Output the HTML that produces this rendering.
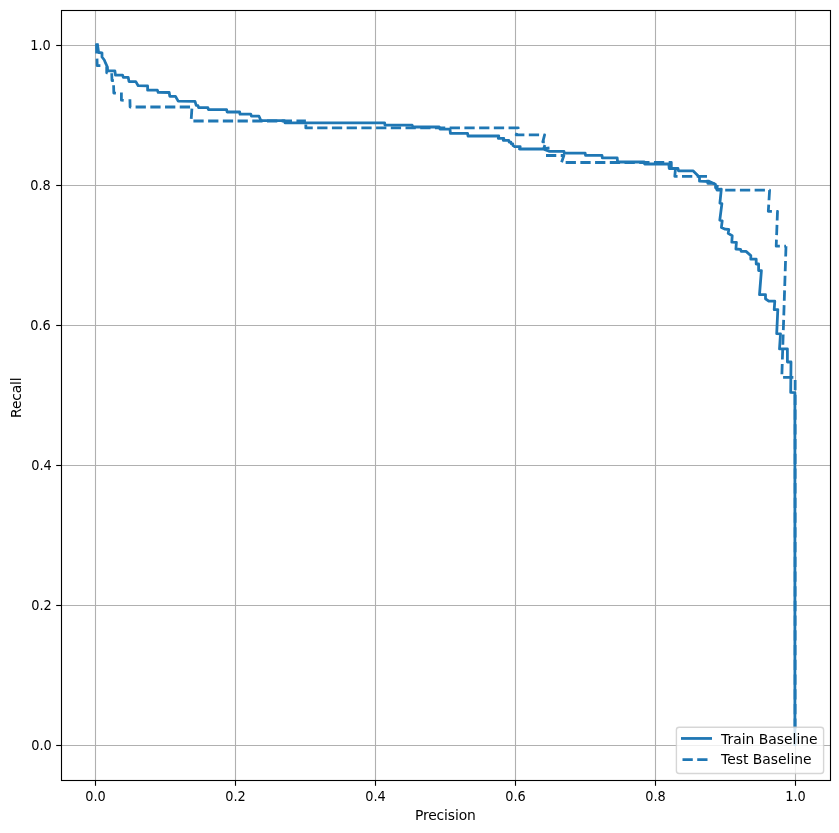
<!DOCTYPE html>
<html lang="en"><head><meta charset="utf-8"><title>Precision / Recall</title>
<style>html,body{margin:0;padding:0;background:#fff}svg{display:block;will-change:transform}text{font-family:"DejaVu Sans", "Liberation Sans", sans-serif;font-size:13.89px;fill:#000;filter:grayscale(1)}</style></head><body>
<svg width="839" height="833" viewBox="0 0 839 833" role="img" aria-label="Precision-Recall curves">
<rect width="839" height="833" fill="#fff"/>
<g stroke="#b0b0b0" stroke-width="1.11" fill="none">
<path d="M95.5,10.5 V780.5"/>
<path d="M61.5,745.5 H830.5"/>
<path d="M235.5,10.5 V780.5"/>
<path d="M61.5,605.5 H830.5"/>
<path d="M375.5,10.5 V780.5"/>
<path d="M61.5,465.5 H830.5"/>
<path d="M515.5,10.5 V780.5"/>
<path d="M61.5,325.5 H830.5"/>
<path d="M655.5,10.5 V780.5"/>
<path d="M61.5,185.5 H830.5"/>
<path d="M795.5,10.5 V780.5"/>
<path d="M61.5,45.5 H830.5"/>
</g>
<clipPath id="ax"><rect x="61.5" y="10.5" width="769.0" height="770.0"/></clipPath>
<g clip-path="url(#ax)" fill="none" stroke="#1f77b4" stroke-width="2.78" stroke-linejoin="round">
<path stroke-linecap="square" d="M97.5,44.8 L98.6,52.5 L102,52.8 L102,57 L104.3,60 L105.6,63.2 L107.4,67 L107.6,70.8 L114.9,70.8 L115.4,75 L122.6,75.1 L123.3,77.35 L128.2,77.35 L129,81.5 L135.8,81.6 L138.2,85.7 L147.6,85.9 L147.6,90.15 L157.4,90.2 L158.2,92.4 L169.2,92.5 L169.8,96.3 L175.5,96.4 L178.2,101.1 L195,101.4 L196.2,105.4 L198,105.6 L198.6,107.6 L207.9,107.6 L208.3,109.6 L226.6,109.6 L227.1,112 L239.7,112 L240,114.2 L250.8,114.2 L251.4,116.2 L259,116.2 L261,120.7 L284.4,120.7 L285,122.8 L384.6,122.8 L385,125.2 L412.2,125.2 L413,127 L439.2,127 L440,129.1 L450,129.2 L450.4,133.4 L467.6,133.4 L468,136 L498.8,136 L498.3,138.3 L503.8,138.3 L503.3,140.4 L508.8,140.4 L509.2,142.1 L510.9,142.2 L511.2,143.8 L512.8,144 L513.1,145.7 L514.6,146.7 L520.2,146.7 L519.5,149 L543,149 L549,151.3 L564,151.3 L564.2,153.2 L585.2,153.2 L585.5,155.4 L602,155.4 L602.3,157.8 L617.2,157.8 L617.6,162 L644.2,162 L644.6,164 L668.8,164 L669.2,168.5 L678,168.5 L678.4,170.8 L693,170.8 L699.5,177.2 L699.5,181.2 L709.4,181.5 L715.4,184.2 L715.6,187.8 L717.4,189.4 L721.3,189.1 L719.9,203.2 L721.9,203.6 L719.8,220.2 L722.2,220.8 L721.4,227.4 L725.2,229.2 L728.8,229.5 L728.2,233.4 L732.2,235.8 L731.8,242.2 L736.4,242.4 L735.9,249 L740.6,249.4 L741.2,251.4 L746,251.4 L750.8,255.6 L750.8,259.2 L756.2,259.2 L756.2,264 L758.6,264 L758.6,270.6 L761.4,270.6 L759.5,294.6 L765.5,294.6 L765.5,298.8 L768.8,301.2 L774.8,301.2 L774.2,309.6 L777.8,309.6 L776.7,333.6 L780.5,333.8 L779.5,348.8 L787.4,348.8 L787.4,362 L791,362 L790.7,392.4 L794.9,392.6 L794.9,744.6"/>
<path d="M96.5,43.4 L96.6,53.4"/>
<path d="M97,58.6 L97.2,65.6 L100.4,65.6"/>
<path d="M106.7,66.5 L106.7,72.8 L107.6,72.8"/>
<path d="M111.7,73.2 L112,80.5 L113.9,80.7"/>
<path d="M113.6,85.2 L113.8,93 L115.9,93.2"/>
<path d="M121.4,92.4 L121.4,100.2 L123.7,100.4"/>
<path d="M544.9,145 L543.7,148.6 L549.5,148"/>
<path stroke-dasharray="10.28 4.44" stroke-dashoffset="1.42" d="M129.9,99.2 L130.1,107 L191.9,107"/>
<path stroke-dasharray="10.28 4.44" stroke-dashoffset="13.11" d="M192,107 L191.1,121 L305.9,121"/>
<path stroke-dasharray="10.28 4.44" stroke-dashoffset="11.14" d="M305.9,121 L305.8,127.9 L518.2,127.9 L516.2,134.8 L544.6,134.8 L542.8,141.8 L544.8,141.8"/>
<path stroke-dasharray="10.28 4.44" stroke-dashoffset="0" d="M546,155.5 L563.9,155.5 L561.5,162.5 L671.3,162.5 L671.3,169.3"/>
<path stroke-dasharray="10.28 4.44" stroke-dashoffset="0.49" d="M675.4,169.3 L674.8,176.3 L708,176.3 L707.8,183.3 L717.4,183.3 L717,190.2 L721,190.2"/>
<path stroke-dasharray="10.28 4.44" stroke-dashoffset="10.52" d="M721,190.2 L769.6,190.2 L768.3,211.3 L777.5,211.3 L776.2,246.2 L786,246.2"/>
<path stroke-dasharray="10.28 4.44" stroke-dashoffset="14.64" d="M786,246.2 L781.8,377.4 L795.15,377.4 L795.1,745.8"/>
</g>
<g stroke="#000" stroke-width="1.11" fill="none">
<rect x="61.5" y="10.5" width="769.0" height="770.0"/>
<path d="M95.5,780.5 v5.3"/>
<path d="M61.5,745.5 h-5.3"/>
<path d="M235.5,780.5 v5.3"/>
<path d="M61.5,605.5 h-5.3"/>
<path d="M375.5,780.5 v5.3"/>
<path d="M61.5,465.5 h-5.3"/>
<path d="M515.5,780.5 v5.3"/>
<path d="M61.5,325.5 h-5.3"/>
<path d="M655.5,780.5 v5.3"/>
<path d="M61.5,185.5 h-5.3"/>
<path d="M795.5,780.5 v5.3"/>
<path d="M61.5,45.5 h-5.3"/>
</g>
<text transform="translate(95.45,800.8) scale(0.93,1)" text-anchor="middle">0.0</text>
<text transform="translate(51.75,749.9) scale(0.93,1)" text-anchor="end">0.0</text>
<text transform="translate(235.45,800.8) scale(0.93,1)" text-anchor="middle">0.2</text>
<text transform="translate(51.75,609.9) scale(0.93,1)" text-anchor="end">0.2</text>
<text transform="translate(375.45,800.8) scale(0.93,1)" text-anchor="middle">0.4</text>
<text transform="translate(51.75,469.9) scale(0.93,1)" text-anchor="end">0.4</text>
<text transform="translate(515.45,800.8) scale(0.93,1)" text-anchor="middle">0.6</text>
<text transform="translate(50.75,329.9) scale(0.93,1)" text-anchor="end">0.6</text>
<text transform="translate(655.45,800.8) scale(0.93,1)" text-anchor="middle">0.8</text>
<text transform="translate(50.75,189.9) scale(0.93,1)" text-anchor="end">0.8</text>
<text transform="translate(795.45,800.8) scale(0.93,1)" text-anchor="middle">1.0</text>
<text transform="translate(50.75,49.9) scale(0.93,1)" text-anchor="end">1.0</text>
<text x="445.3" y="819.8" text-anchor="middle" letter-spacing="-0.13">Precision</text>
<text transform="translate(20.9,397.7) rotate(-90)" text-anchor="middle" letter-spacing="-0.17">Recall</text>
<rect x="676.4" y="727.3" width="147.2" height="46.2" rx="2.8" ry="2.8" fill="#fff" fill-opacity="0.8" stroke="#ccc" stroke-opacity="0.8" stroke-width="1.39"/>
<path d="M682.4,738.45 H710.6" stroke="#1f77b4" stroke-width="2.78" stroke-linecap="square" fill="none"/>
<path d="M682.5,759.55 H710.4" stroke="#1f77b4" stroke-width="2.78" stroke-dasharray="10.28 4.44" fill="none"/>
<text x="721.1" y="743.6">Train Baseline</text>
<text x="721.1" y="763.6">Test Baseline</text>
</svg></body></html>
